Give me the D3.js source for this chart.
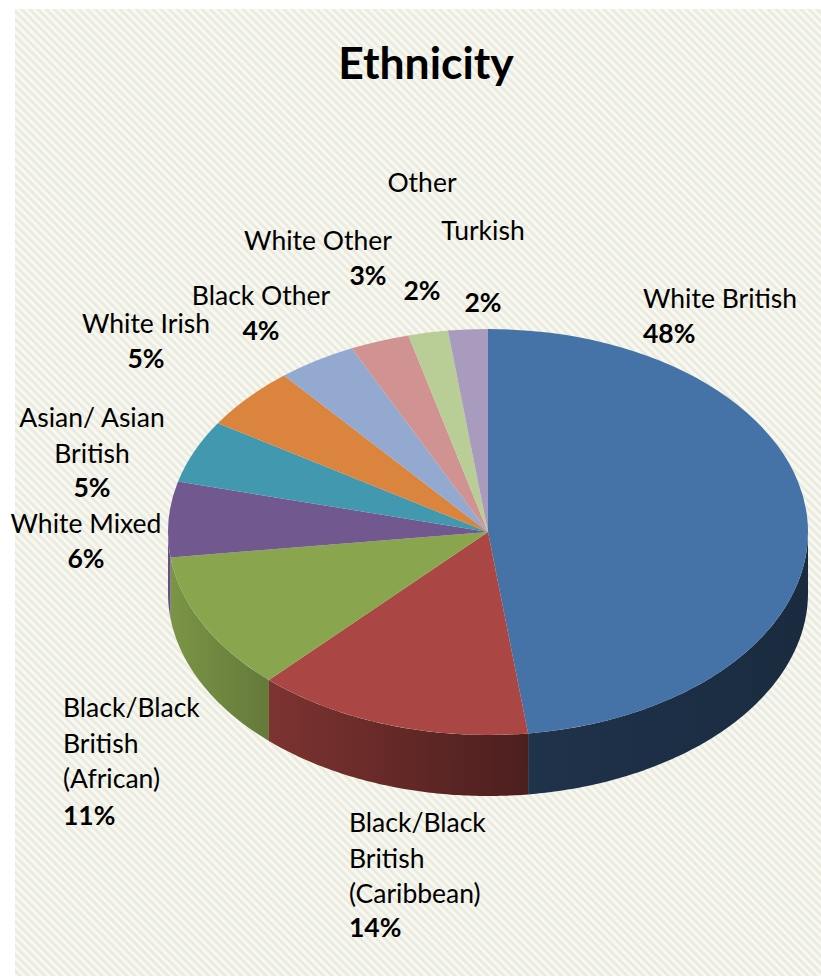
<!DOCTYPE html>
<html>
<head>
<meta charset="utf-8">
<script src="https://cdn.jsdelivr.net/npm/d3@7"></script>
<style>
  html, body { margin: 0; padding: 0; background: #ffffff; }
  svg { display: block; }
  text { font-family: "Lato", "Open Sans", sans-serif; fill: #000; }
</style>
</head>
<body>
<svg id="chart" width="821" height="976"></svg>
<script>
// Ethnic composition, percent of total
const categories = [
  "White British",
  "Black/Black British (Caribbean)",
  "Black/Black British (African)",
  "White Mixed",
  "Asian/ Asian British",
  "White Irish",
  "Black Other",
  "White Other",
  "Other",
  "Turkish"
];
const values = [48, 14, 11, 6, 5, 5, 4, 3, 2, 2];
const labelLines = [
  ["White British"],
  ["Black/Black", "British", "(Caribbean)"],
  ["Black/Black", "British", "(African)"],
  ["White Mixed"],
  ["Asian/ Asian", "British"],
  ["White Irish"],
  ["Black Other"],
  ["White Other"],
  ["Other"],
  ["Turkish"]
];
const colors = ["#4572A7", "#AA4643", "#89A54E", "#71588F", "#4198AF",
                "#DB843D", "#93A9CF", "#D19392", "#B9CD96", "#A99BBD"];

// Label placement: name anchor + first baseline, percent anchor + baseline
const labelLayout = [
  { anchor: "start",  x: 643, y: 308, px: 643, py: 343 },
  { anchor: "start",  x: 349, y: 832, px: 349, py: 937 },
  { anchor: "start",  x: 63,  y: 717, px: 63,  py: 825 },
  { anchor: "middle", x: 86,  y: 533, px: 86,  py: 568 },
  { anchor: "middle", x: 92,  y: 427, px: 92,  py: 497 },
  { anchor: "middle", x: 146, y: 333, px: 146, py: 368 },
  { anchor: "middle", x: 261, y: 305, px: 261, py: 340 },
  { anchor: "middle", x: 318, y: 250, px: 368, py: 285 },
  { anchor: "middle", x: 422, y: 192, px: 422, py: 300 },
  { anchor: "middle", x: 483, y: 240, px: 483, py: 312 }
];

const W = 821, H = 976;
const cx = 488, cy = 532, rx = 320, ry = 203, depth = 61;
const lineH = 35.5;
const labelSize = 26.5;

const svg = d3.select("#chart");
const defs = svg.append("defs");

// Diagonal hatch background
const pat = defs.append("pattern")
  .attr("id", "hatch")
  .attr("patternUnits", "userSpaceOnUse")
  .attr("width", 5.8).attr("height", 10)
  .attr("patternTransform", "rotate(-45)");
const hg = defs.append("linearGradient").attr("id", "hatchGrad")
  .attr("x1", 0).attr("x2", 1).attr("y1", 0).attr("y2", 0);
hg.append("stop").attr("offset", "0%").attr("stop-color", "#fdfdfb");
hg.append("stop").attr("offset", "50%").attr("stop-color", "#e6e6d6");
hg.append("stop").attr("offset", "100%").attr("stop-color", "#fdfdfb");
pat.append("rect").attr("width", 5.8).attr("height", 10).attr("fill", "url(#hatchGrad)");

svg.append("rect").attr("width", W).attr("height", H).attr("fill", "#ffffff");
svg.append("rect").attr("x", 15).attr("y", 9).attr("width", W - 15).attr("height", H - 9)
  .attr("fill", "url(#hatch)");

// Title
svg.append("text")
  .attr("x", 426).attr("y", 79)
  .attr("text-anchor", "middle")
  .attr("font-size", 44.5).attr("font-weight", "bold")
  .text("Ethnicity");

// Pie angles: start at 12 o'clock, clockwise
const pie = d3.pie().sort(null).value(d => d.value)
  .startAngle(0).endAngle(2 * Math.PI);
const data = categories.map((c, i) => ({ name: c, value: values[i], color: colors[i], i }));
const arcs = pie(data);

const ex = t => cx + rx * Math.sin(t);
const ey = t => cy - ry * Math.cos(t);

// Side shading varies left (lighter) to right (darker)
const shade = d3.scaleLinear()
  .domain([cx - rx, cx - rx + 110, cx + 45, cx + rx])
  .range([0.9, 0.72, 0.44, 0.38]);

const sideLine = d3.line().x(d => d[0]).y(d => d[1]);
const sides = svg.append("g");

arcs.forEach(a => {
  const s = Math.max(a.startAngle, Math.PI / 2);
  const e = Math.min(a.endAngle, 3 * Math.PI / 2);
  if (e <= s) return;
  const n = 80;
  const ts = d3.range(n + 1).map(k => s + (e - s) * k / n);
  const top = ts.map(t => [ex(t), ey(t)]);
  const bot = ts.slice().reverse().map(t => [ex(t), ey(t) + depth]);
  const gid = "side" + a.data.i;
  const x0 = d3.min(top, p => p[0]), x1 = d3.max(top, p => p[0]);
  const g = defs.append("linearGradient").attr("id", gid)
    .attr("gradientUnits", "userSpaceOnUse")
    .attr("x1", x0).attr("x2", x1).attr("y1", 0).attr("y2", 0);
  const base = d3.rgb(a.data.color);
  d3.range(6).forEach(k => {
    const xx = x0 + (x1 - x0) * k / 5;
    const f = shade(xx);
    g.append("stop").attr("offset", (k * 20) + "%")
      .attr("stop-color", d3.rgb(base.r * f, base.g * f, base.b * f).formatHex());
  });
  sides.append("path")
    .attr("d", sideLine(top.concat(bot)) + "Z")
    .attr("fill", "url(#" + gid + ")");
});

// Top face: circular arcs squashed into an ellipse
const arcGen = d3.arc().innerRadius(0).outerRadius(rx);
svg.append("g")
  .attr("transform", `translate(${cx},${cy}) scale(1,${ry / rx})`)
  .selectAll("path")
  .data(arcs)
  .join("path")
  .attr("d", arcGen)
  .attr("fill", d => d.data.color);

// Data labels
const labels = svg.append("g");
arcs.forEach((a, i) => {
  const L = labelLayout[i];
  labelLines[i].forEach((line, k) => {
    labels.append("text")
      .attr("x", L.x).attr("y", L.y + k * lineH)
      .attr("text-anchor", L.anchor)
      .attr("font-size", labelSize)
      .text(line);
  });
  labels.append("text")
    .attr("x", L.px).attr("y", L.py)
    .attr("text-anchor", L.anchor)
    .attr("font-size", labelSize).attr("font-weight", "bold")
    .text(a.data.value + "%");
});
</script>
</body>
</html>
